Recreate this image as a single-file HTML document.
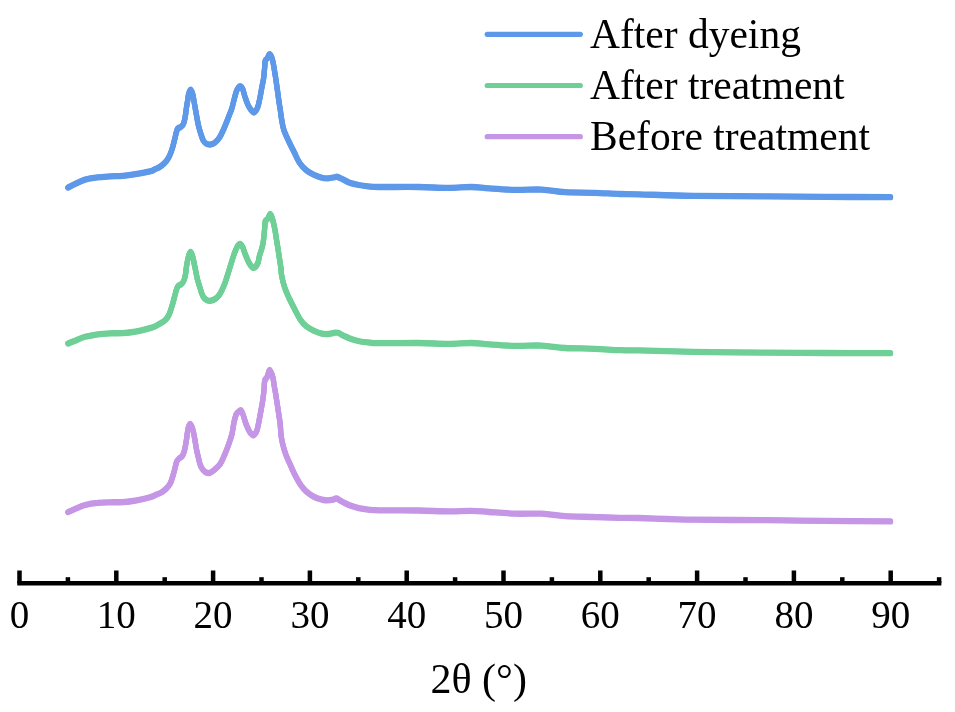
<!DOCTYPE html>
<html><head><meta charset="utf-8"><title>XRD</title>
<style>
html,body{margin:0;padding:0;background:#fff;}
body{width:955px;height:712px;overflow:hidden;}
svg{display:block;will-change:transform;}
text{font-family:"Liberation Serif",serif;fill:#000;}
svg{font-size:40px;}
</style></head><body>
<svg width="955" height="712" viewBox="0 0 955 712">
<rect width="955" height="712" fill="#fff"/>
<g fill="none" stroke-width="5.3" stroke-linecap="round" stroke-linejoin="round">
<g stroke="#5d98e9"><path d="M68.0 187.6C69.4 186.9 73.5 184.7 76.3 183.4C79.1 182.1 81.5 180.6 85.1 179.6C88.7 178.6 93.5 177.9 97.7 177.4C101.9 176.9 106.1 176.7 110.3 176.4C114.5 176.1 118.6 176.2 122.8 175.8C127.0 175.4 130.9 174.9 135.4 174.2C139.9 173.4 146.7 172.1 150.0 171.3C153.3 170.5 153.4 170.0 155.1 169.2C156.8 168.4 158.5 167.8 160.1 166.7C161.7 165.6 163.3 164.4 164.7 162.9C166.1 161.4 167.4 159.6 168.5 157.8C169.6 156.0 170.3 154.0 171.1 151.9C171.9 149.8 172.6 147.4 173.2 145.2C173.8 142.9 174.4 140.5 174.9 138.4C175.4 136.3 175.8 134.2 176.3 132.5C176.8 130.8 177.1 129.4 177.8 128.5C178.6 127.6 179.9 127.7 180.8 126.9C181.7 126.2 182.7 125.6 183.4 124.0C184.1 122.4 184.6 120.2 185.1 117.5C185.6 114.8 186.0 110.8 186.4 108.0C186.8 105.2 187.3 102.8 187.7 100.4C188.1 98.0 188.2 95.5 188.7 93.7C189.2 91.9 189.9 89.6 190.6 89.6C191.2 89.6 192.0 91.8 192.6 93.7C193.2 95.7 193.5 98.6 194.0 101.3C194.5 104.0 195.0 106.9 195.5 109.7C196.0 112.5 196.5 115.3 197.0 118.1C197.5 120.9 198.0 123.8 198.7 126.5C199.3 129.2 200.2 131.7 200.9 134.0C201.6 136.3 202.2 138.5 203.1 140.1C203.9 141.7 204.8 142.8 206.0 143.5C207.2 144.2 208.8 144.7 210.3 144.5C211.8 144.3 213.6 143.7 215.1 142.5C216.6 141.3 218.1 139.8 219.6 137.4C221.1 135.1 222.5 131.8 224.0 128.4C225.5 125.0 227.2 120.6 228.5 117.2C229.8 113.8 231.0 111.2 231.9 108.2C232.8 105.2 233.4 102.0 234.2 99.2C234.9 96.4 235.7 93.3 236.4 91.3C237.2 89.3 238.0 88.0 238.7 87.2C239.4 86.4 239.8 86.0 240.4 86.3C241.1 86.6 241.8 86.9 242.6 88.8C243.4 90.7 244.3 94.9 245.2 97.5C246.1 100.1 246.9 102.5 247.8 104.5C248.7 106.5 249.8 108.3 250.8 109.6C251.8 110.9 252.9 112.8 254.0 112.5C255.1 112.2 256.6 109.8 257.6 107.5C258.6 105.2 259.1 101.6 259.8 98.5C260.5 95.4 261.0 92.1 261.6 88.7C262.2 85.3 263.1 81.9 263.6 78.3C264.1 74.7 264.4 70.0 264.7 67.1C265.0 64.1 264.8 62.1 265.3 60.6C265.8 59.1 266.8 59.2 267.5 58.1C268.2 57.0 268.9 53.8 269.8 54.2C270.7 54.6 271.8 57.2 272.6 60.3C273.4 63.4 274.1 68.1 274.8 72.7C275.6 77.3 276.4 83.3 277.1 88.0C277.8 92.7 278.3 97.2 278.9 101.0C279.4 104.8 279.9 107.5 280.4 110.5C280.8 113.5 281.0 116.0 281.6 119.3C282.2 122.6 282.7 126.6 283.9 130.2C285.1 133.8 286.9 137.4 288.6 141.0C290.3 144.6 292.2 148.2 294.0 151.8C295.8 155.4 297.3 159.5 299.4 162.6C301.4 165.7 303.9 168.2 306.3 170.3C308.8 172.4 311.5 173.7 314.1 174.9C316.7 176.1 319.5 177.1 321.8 177.7C324.1 178.3 325.9 178.4 328.0 178.3C330.1 178.2 332.6 177.6 334.1 177.3C335.6 177.1 335.9 176.6 337.2 176.8C338.5 177.1 339.8 177.8 341.9 178.8C344.0 179.8 346.8 181.7 349.6 182.7C352.4 183.7 355.7 184.4 358.8 185.0C361.9 185.6 364.8 186.0 368.1 186.3C371.5 186.6 370.5 186.9 378.9 187.0C387.3 187.1 407.1 186.8 418.6 187.0C430.1 187.2 439.2 187.9 448.0 187.9C456.8 187.9 464.6 186.9 471.4 187.0C478.2 187.1 481.7 187.9 489.0 188.4C496.3 188.9 506.6 189.7 515.4 189.9C524.2 190.1 533.5 189.2 541.8 189.6C550.1 190.0 556.4 191.7 565.2 192.2C574.0 192.7 585.4 192.5 594.5 192.8C603.6 193.1 612.7 193.8 620.0 194.0C627.3 194.2 626.3 194.0 638.5 194.3C650.7 194.6 671.9 195.5 693.3 195.8C714.6 196.2 744.6 196.2 766.6 196.4C788.6 196.6 804.6 196.8 825.2 196.9C845.9 197.0 879.6 197.1 890.5 197.2"/><path transform="translate(0,-0.5)" d="M68.0 187.6C69.4 186.9 73.5 184.7 76.3 183.4C79.1 182.1 81.5 180.6 85.1 179.6C88.7 178.6 93.5 177.9 97.7 177.4C101.9 176.9 106.1 176.7 110.3 176.4C114.5 176.1 118.6 176.2 122.8 175.8C127.0 175.4 130.9 174.9 135.4 174.2C139.9 173.4 146.7 172.1 150.0 171.3C153.3 170.5 153.4 170.0 155.1 169.2C156.8 168.4 158.5 167.8 160.1 166.7C161.7 165.6 163.3 164.4 164.7 162.9C166.1 161.4 167.4 159.6 168.5 157.8C169.6 156.0 170.3 154.0 171.1 151.9C171.9 149.8 172.6 147.4 173.2 145.2C173.8 142.9 174.4 140.5 174.9 138.4C175.4 136.3 175.8 134.2 176.3 132.5C176.8 130.8 177.1 129.4 177.8 128.5C178.6 127.6 179.9 127.7 180.8 126.9C181.7 126.2 182.7 125.6 183.4 124.0C184.1 122.4 184.6 120.2 185.1 117.5C185.6 114.8 186.0 110.8 186.4 108.0C186.8 105.2 187.3 102.8 187.7 100.4C188.1 98.0 188.2 95.5 188.7 93.7C189.2 91.9 189.9 89.6 190.6 89.6C191.2 89.6 192.0 91.8 192.6 93.7C193.2 95.7 193.5 98.6 194.0 101.3C194.5 104.0 195.0 106.9 195.5 109.7C196.0 112.5 196.5 115.3 197.0 118.1C197.5 120.9 198.0 123.8 198.7 126.5C199.3 129.2 200.2 131.7 200.9 134.0C201.6 136.3 202.2 138.5 203.1 140.1C203.9 141.7 204.8 142.8 206.0 143.5C207.2 144.2 208.8 144.7 210.3 144.5C211.8 144.3 213.6 143.7 215.1 142.5C216.6 141.3 218.1 139.8 219.6 137.4C221.1 135.1 222.5 131.8 224.0 128.4C225.5 125.0 227.2 120.6 228.5 117.2C229.8 113.8 231.0 111.2 231.9 108.2C232.8 105.2 233.4 102.0 234.2 99.2C234.9 96.4 235.7 93.3 236.4 91.3C237.2 89.3 238.0 88.0 238.7 87.2C239.4 86.4 239.8 86.0 240.4 86.3C241.1 86.6 241.8 86.9 242.6 88.8C243.4 90.7 244.3 94.9 245.2 97.5C246.1 100.1 246.9 102.5 247.8 104.5C248.7 106.5 249.8 108.3 250.8 109.6C251.8 110.9 252.9 112.8 254.0 112.5C255.1 112.2 256.6 109.8 257.6 107.5C258.6 105.2 259.1 101.6 259.8 98.5C260.5 95.4 261.0 92.1 261.6 88.7C262.2 85.3 263.1 81.9 263.6 78.3C264.1 74.7 264.4 70.0 264.7 67.1C265.0 64.1 264.8 62.1 265.3 60.6C265.8 59.1 266.8 59.2 267.5 58.1C268.2 57.0 268.9 53.8 269.8 54.2C270.7 54.6 271.8 57.2 272.6 60.3C273.4 63.4 274.1 68.1 274.8 72.7C275.6 77.3 276.4 83.3 277.1 88.0C277.8 92.7 278.3 97.2 278.9 101.0C279.4 104.8 279.9 107.5 280.4 110.5C280.8 113.5 281.0 116.0 281.6 119.3C282.2 122.6 282.7 126.6 283.9 130.2C285.1 133.8 286.9 137.4 288.6 141.0C290.3 144.6 292.2 148.2 294.0 151.8C295.8 155.4 297.3 159.5 299.4 162.6C301.4 165.7 303.9 168.2 306.3 170.3C308.8 172.4 311.5 173.7 314.1 174.9C316.7 176.1 319.5 177.1 321.8 177.7C324.1 178.3 325.9 178.4 328.0 178.3C330.1 178.2 332.6 177.6 334.1 177.3C335.6 177.1 335.9 176.6 337.2 176.8C338.5 177.1 339.8 177.8 341.9 178.8C344.0 179.8 346.8 181.7 349.6 182.7C352.4 183.7 355.7 184.4 358.8 185.0C361.9 185.6 364.8 186.0 368.1 186.3C371.5 186.6 370.5 186.9 378.9 187.0C387.3 187.1 407.1 186.8 418.6 187.0C430.1 187.2 439.2 187.9 448.0 187.9C456.8 187.9 464.6 186.9 471.4 187.0C478.2 187.1 481.7 187.9 489.0 188.4C496.3 188.9 506.6 189.7 515.4 189.9C524.2 190.1 533.5 189.2 541.8 189.6C550.1 190.0 556.4 191.7 565.2 192.2C574.0 192.7 585.4 192.5 594.5 192.8C603.6 193.1 612.7 193.8 620.0 194.0C627.3 194.2 626.3 194.0 638.5 194.3C650.7 194.6 671.9 195.5 693.3 195.8C714.6 196.2 744.6 196.2 766.6 196.4C788.6 196.6 804.6 196.8 825.2 196.9C845.9 197.0 879.6 197.1 890.5 197.2"/><path transform="translate(0,0.5)" d="M68.0 187.6C69.4 186.9 73.5 184.7 76.3 183.4C79.1 182.1 81.5 180.6 85.1 179.6C88.7 178.6 93.5 177.9 97.7 177.4C101.9 176.9 106.1 176.7 110.3 176.4C114.5 176.1 118.6 176.2 122.8 175.8C127.0 175.4 130.9 174.9 135.4 174.2C139.9 173.4 146.7 172.1 150.0 171.3C153.3 170.5 153.4 170.0 155.1 169.2C156.8 168.4 158.5 167.8 160.1 166.7C161.7 165.6 163.3 164.4 164.7 162.9C166.1 161.4 167.4 159.6 168.5 157.8C169.6 156.0 170.3 154.0 171.1 151.9C171.9 149.8 172.6 147.4 173.2 145.2C173.8 142.9 174.4 140.5 174.9 138.4C175.4 136.3 175.8 134.2 176.3 132.5C176.8 130.8 177.1 129.4 177.8 128.5C178.6 127.6 179.9 127.7 180.8 126.9C181.7 126.2 182.7 125.6 183.4 124.0C184.1 122.4 184.6 120.2 185.1 117.5C185.6 114.8 186.0 110.8 186.4 108.0C186.8 105.2 187.3 102.8 187.7 100.4C188.1 98.0 188.2 95.5 188.7 93.7C189.2 91.9 189.9 89.6 190.6 89.6C191.2 89.6 192.0 91.8 192.6 93.7C193.2 95.7 193.5 98.6 194.0 101.3C194.5 104.0 195.0 106.9 195.5 109.7C196.0 112.5 196.5 115.3 197.0 118.1C197.5 120.9 198.0 123.8 198.7 126.5C199.3 129.2 200.2 131.7 200.9 134.0C201.6 136.3 202.2 138.5 203.1 140.1C203.9 141.7 204.8 142.8 206.0 143.5C207.2 144.2 208.8 144.7 210.3 144.5C211.8 144.3 213.6 143.7 215.1 142.5C216.6 141.3 218.1 139.8 219.6 137.4C221.1 135.1 222.5 131.8 224.0 128.4C225.5 125.0 227.2 120.6 228.5 117.2C229.8 113.8 231.0 111.2 231.9 108.2C232.8 105.2 233.4 102.0 234.2 99.2C234.9 96.4 235.7 93.3 236.4 91.3C237.2 89.3 238.0 88.0 238.7 87.2C239.4 86.4 239.8 86.0 240.4 86.3C241.1 86.6 241.8 86.9 242.6 88.8C243.4 90.7 244.3 94.9 245.2 97.5C246.1 100.1 246.9 102.5 247.8 104.5C248.7 106.5 249.8 108.3 250.8 109.6C251.8 110.9 252.9 112.8 254.0 112.5C255.1 112.2 256.6 109.8 257.6 107.5C258.6 105.2 259.1 101.6 259.8 98.5C260.5 95.4 261.0 92.1 261.6 88.7C262.2 85.3 263.1 81.9 263.6 78.3C264.1 74.7 264.4 70.0 264.7 67.1C265.0 64.1 264.8 62.1 265.3 60.6C265.8 59.1 266.8 59.2 267.5 58.1C268.2 57.0 268.9 53.8 269.8 54.2C270.7 54.6 271.8 57.2 272.6 60.3C273.4 63.4 274.1 68.1 274.8 72.7C275.6 77.3 276.4 83.3 277.1 88.0C277.8 92.7 278.3 97.2 278.9 101.0C279.4 104.8 279.9 107.5 280.4 110.5C280.8 113.5 281.0 116.0 281.6 119.3C282.2 122.6 282.7 126.6 283.9 130.2C285.1 133.8 286.9 137.4 288.6 141.0C290.3 144.6 292.2 148.2 294.0 151.8C295.8 155.4 297.3 159.5 299.4 162.6C301.4 165.7 303.9 168.2 306.3 170.3C308.8 172.4 311.5 173.7 314.1 174.9C316.7 176.1 319.5 177.1 321.8 177.7C324.1 178.3 325.9 178.4 328.0 178.3C330.1 178.2 332.6 177.6 334.1 177.3C335.6 177.1 335.9 176.6 337.2 176.8C338.5 177.1 339.8 177.8 341.9 178.8C344.0 179.8 346.8 181.7 349.6 182.7C352.4 183.7 355.7 184.4 358.8 185.0C361.9 185.6 364.8 186.0 368.1 186.3C371.5 186.6 370.5 186.9 378.9 187.0C387.3 187.1 407.1 186.8 418.6 187.0C430.1 187.2 439.2 187.9 448.0 187.9C456.8 187.9 464.6 186.9 471.4 187.0C478.2 187.1 481.7 187.9 489.0 188.4C496.3 188.9 506.6 189.7 515.4 189.9C524.2 190.1 533.5 189.2 541.8 189.6C550.1 190.0 556.4 191.7 565.2 192.2C574.0 192.7 585.4 192.5 594.5 192.8C603.6 193.1 612.7 193.8 620.0 194.0C627.3 194.2 626.3 194.0 638.5 194.3C650.7 194.6 671.9 195.5 693.3 195.8C714.6 196.2 744.6 196.2 766.6 196.4C788.6 196.6 804.6 196.8 825.2 196.9C845.9 197.0 879.6 197.1 890.5 197.2"/></g>
<g stroke="#6ecf97"><path d="M68.0 343.5C69.4 342.9 73.5 341.3 76.3 340.2C79.1 339.1 81.5 337.8 85.1 336.8C88.7 335.8 93.5 334.9 97.7 334.3C101.9 333.7 106.1 333.5 110.3 333.3C114.5 333.1 118.6 333.4 122.8 333.1C127.0 332.8 130.9 332.4 135.4 331.6C139.9 330.8 146.7 329.0 150.0 328.1C153.3 327.2 153.3 327.2 155.1 326.4C156.9 325.6 159.2 324.2 161.0 323.1C162.8 322.0 164.3 321.1 165.6 319.7C166.9 318.3 168.1 316.5 169.0 314.7C169.9 312.9 170.4 310.9 171.1 308.8C171.8 306.7 172.6 304.2 173.2 302.0C173.8 299.8 174.3 297.4 174.9 295.3C175.5 293.2 175.9 290.9 176.5 289.4C177.1 287.8 177.4 286.9 178.2 286.0C179.0 285.1 180.3 285.1 181.2 284.3C182.1 283.5 183.0 282.5 183.7 281.0C184.4 279.5 184.9 277.7 185.4 275.1C185.9 272.5 186.1 268.5 186.7 265.3C187.2 262.1 188.0 258.1 188.7 255.8C189.3 253.6 189.9 251.7 190.6 251.8C191.2 251.9 191.9 253.9 192.6 256.3C193.3 258.8 194.0 262.8 194.8 266.5C195.6 270.2 196.4 275.0 197.2 278.4C198.0 281.8 198.9 284.3 199.7 286.8C200.5 289.3 201.1 291.8 201.8 293.6C202.5 295.4 203.0 296.7 203.9 297.8C204.8 298.9 206.3 299.8 207.3 300.3C208.3 300.8 208.7 301.0 210.0 300.8C211.3 300.6 213.5 300.1 215.1 299.0C216.7 297.9 218.1 296.7 219.6 294.5C221.1 292.3 222.4 289.6 224.0 285.6C225.6 281.7 227.6 274.9 228.9 270.8C230.2 266.7 230.9 264.1 231.9 261.0C232.9 257.9 233.8 254.7 234.8 252.2C235.8 249.7 237.0 247.2 237.8 245.8C238.7 244.4 239.1 243.6 239.9 243.8C240.7 244.0 241.8 245.3 242.7 247.2C243.6 249.1 244.5 252.5 245.6 255.1C246.7 257.7 247.8 260.9 249.1 263.0C250.4 265.1 252.1 267.8 253.5 267.9C254.9 268.0 256.7 265.5 257.7 263.5C258.7 261.5 258.8 258.5 259.4 256.1C260.0 253.7 261.0 251.5 261.6 249.2C262.2 246.9 262.8 244.8 263.2 242.3C263.6 239.9 263.8 237.1 264.1 234.5C264.4 231.9 264.6 228.8 264.8 226.6C265.0 224.4 264.8 222.5 265.3 221.2C265.8 219.9 267.0 219.9 267.8 218.7C268.6 217.5 269.6 213.8 270.4 214.0C271.2 214.2 272.0 217.3 272.7 219.7C273.4 222.1 274.1 225.5 274.7 228.6C275.3 231.7 275.8 235.1 276.3 238.4C276.8 241.7 277.4 244.9 277.9 248.2C278.4 251.5 278.9 254.8 279.4 258.1C279.9 261.4 280.5 265.0 280.9 267.9C281.3 270.8 281.0 272.0 281.6 275.3C282.2 278.6 283.4 283.8 284.7 287.7C286.0 291.6 287.6 294.9 289.3 298.5C291.0 302.1 292.9 305.8 294.7 309.3C296.5 312.8 298.3 316.6 300.2 319.4C302.1 322.2 304.0 324.4 306.3 326.3C308.6 328.2 311.5 329.7 314.1 330.9C316.7 332.1 319.5 333.2 321.8 333.7C324.1 334.2 325.9 334.1 328.0 334.0C330.1 333.9 332.4 333.0 334.1 332.8C335.8 332.6 336.4 332.3 338.0 332.8C339.6 333.3 341.2 334.6 343.4 335.6C345.6 336.7 348.3 338.1 351.1 339.1C353.9 340.1 357.3 340.9 360.4 341.5C363.5 342.1 366.5 342.3 369.7 342.6C372.9 342.9 371.5 343.1 379.7 343.2C387.9 343.3 407.2 342.9 418.6 343.0C430.0 343.1 439.2 343.9 448.0 343.9C456.8 343.9 464.6 342.9 471.4 343.0C478.2 343.1 481.7 343.9 489.0 344.4C496.3 344.9 506.6 345.7 515.4 345.9C524.2 346.1 533.5 345.2 541.8 345.6C550.1 346.0 556.4 347.5 565.2 348.0C574.0 348.5 585.4 348.4 594.5 348.8C603.6 349.2 612.7 349.9 620.0 350.2C627.3 350.5 626.3 350.1 638.5 350.4C650.7 350.7 671.9 351.4 693.3 351.8C714.6 352.2 744.6 352.4 766.6 352.6C788.6 352.8 804.6 352.9 825.2 353.0C845.9 353.1 879.6 353.2 890.5 353.2"/><path transform="translate(0,-0.5)" d="M68.0 343.5C69.4 342.9 73.5 341.3 76.3 340.2C79.1 339.1 81.5 337.8 85.1 336.8C88.7 335.8 93.5 334.9 97.7 334.3C101.9 333.7 106.1 333.5 110.3 333.3C114.5 333.1 118.6 333.4 122.8 333.1C127.0 332.8 130.9 332.4 135.4 331.6C139.9 330.8 146.7 329.0 150.0 328.1C153.3 327.2 153.3 327.2 155.1 326.4C156.9 325.6 159.2 324.2 161.0 323.1C162.8 322.0 164.3 321.1 165.6 319.7C166.9 318.3 168.1 316.5 169.0 314.7C169.9 312.9 170.4 310.9 171.1 308.8C171.8 306.7 172.6 304.2 173.2 302.0C173.8 299.8 174.3 297.4 174.9 295.3C175.5 293.2 175.9 290.9 176.5 289.4C177.1 287.8 177.4 286.9 178.2 286.0C179.0 285.1 180.3 285.1 181.2 284.3C182.1 283.5 183.0 282.5 183.7 281.0C184.4 279.5 184.9 277.7 185.4 275.1C185.9 272.5 186.1 268.5 186.7 265.3C187.2 262.1 188.0 258.1 188.7 255.8C189.3 253.6 189.9 251.7 190.6 251.8C191.2 251.9 191.9 253.9 192.6 256.3C193.3 258.8 194.0 262.8 194.8 266.5C195.6 270.2 196.4 275.0 197.2 278.4C198.0 281.8 198.9 284.3 199.7 286.8C200.5 289.3 201.1 291.8 201.8 293.6C202.5 295.4 203.0 296.7 203.9 297.8C204.8 298.9 206.3 299.8 207.3 300.3C208.3 300.8 208.7 301.0 210.0 300.8C211.3 300.6 213.5 300.1 215.1 299.0C216.7 297.9 218.1 296.7 219.6 294.5C221.1 292.3 222.4 289.6 224.0 285.6C225.6 281.7 227.6 274.9 228.9 270.8C230.2 266.7 230.9 264.1 231.9 261.0C232.9 257.9 233.8 254.7 234.8 252.2C235.8 249.7 237.0 247.2 237.8 245.8C238.7 244.4 239.1 243.6 239.9 243.8C240.7 244.0 241.8 245.3 242.7 247.2C243.6 249.1 244.5 252.5 245.6 255.1C246.7 257.7 247.8 260.9 249.1 263.0C250.4 265.1 252.1 267.8 253.5 267.9C254.9 268.0 256.7 265.5 257.7 263.5C258.7 261.5 258.8 258.5 259.4 256.1C260.0 253.7 261.0 251.5 261.6 249.2C262.2 246.9 262.8 244.8 263.2 242.3C263.6 239.9 263.8 237.1 264.1 234.5C264.4 231.9 264.6 228.8 264.8 226.6C265.0 224.4 264.8 222.5 265.3 221.2C265.8 219.9 267.0 219.9 267.8 218.7C268.6 217.5 269.6 213.8 270.4 214.0C271.2 214.2 272.0 217.3 272.7 219.7C273.4 222.1 274.1 225.5 274.7 228.6C275.3 231.7 275.8 235.1 276.3 238.4C276.8 241.7 277.4 244.9 277.9 248.2C278.4 251.5 278.9 254.8 279.4 258.1C279.9 261.4 280.5 265.0 280.9 267.9C281.3 270.8 281.0 272.0 281.6 275.3C282.2 278.6 283.4 283.8 284.7 287.7C286.0 291.6 287.6 294.9 289.3 298.5C291.0 302.1 292.9 305.8 294.7 309.3C296.5 312.8 298.3 316.6 300.2 319.4C302.1 322.2 304.0 324.4 306.3 326.3C308.6 328.2 311.5 329.7 314.1 330.9C316.7 332.1 319.5 333.2 321.8 333.7C324.1 334.2 325.9 334.1 328.0 334.0C330.1 333.9 332.4 333.0 334.1 332.8C335.8 332.6 336.4 332.3 338.0 332.8C339.6 333.3 341.2 334.6 343.4 335.6C345.6 336.7 348.3 338.1 351.1 339.1C353.9 340.1 357.3 340.9 360.4 341.5C363.5 342.1 366.5 342.3 369.7 342.6C372.9 342.9 371.5 343.1 379.7 343.2C387.9 343.3 407.2 342.9 418.6 343.0C430.0 343.1 439.2 343.9 448.0 343.9C456.8 343.9 464.6 342.9 471.4 343.0C478.2 343.1 481.7 343.9 489.0 344.4C496.3 344.9 506.6 345.7 515.4 345.9C524.2 346.1 533.5 345.2 541.8 345.6C550.1 346.0 556.4 347.5 565.2 348.0C574.0 348.5 585.4 348.4 594.5 348.8C603.6 349.2 612.7 349.9 620.0 350.2C627.3 350.5 626.3 350.1 638.5 350.4C650.7 350.7 671.9 351.4 693.3 351.8C714.6 352.2 744.6 352.4 766.6 352.6C788.6 352.8 804.6 352.9 825.2 353.0C845.9 353.1 879.6 353.2 890.5 353.2"/><path transform="translate(0,0.5)" d="M68.0 343.5C69.4 342.9 73.5 341.3 76.3 340.2C79.1 339.1 81.5 337.8 85.1 336.8C88.7 335.8 93.5 334.9 97.7 334.3C101.9 333.7 106.1 333.5 110.3 333.3C114.5 333.1 118.6 333.4 122.8 333.1C127.0 332.8 130.9 332.4 135.4 331.6C139.9 330.8 146.7 329.0 150.0 328.1C153.3 327.2 153.3 327.2 155.1 326.4C156.9 325.6 159.2 324.2 161.0 323.1C162.8 322.0 164.3 321.1 165.6 319.7C166.9 318.3 168.1 316.5 169.0 314.7C169.9 312.9 170.4 310.9 171.1 308.8C171.8 306.7 172.6 304.2 173.2 302.0C173.8 299.8 174.3 297.4 174.9 295.3C175.5 293.2 175.9 290.9 176.5 289.4C177.1 287.8 177.4 286.9 178.2 286.0C179.0 285.1 180.3 285.1 181.2 284.3C182.1 283.5 183.0 282.5 183.7 281.0C184.4 279.5 184.9 277.7 185.4 275.1C185.9 272.5 186.1 268.5 186.7 265.3C187.2 262.1 188.0 258.1 188.7 255.8C189.3 253.6 189.9 251.7 190.6 251.8C191.2 251.9 191.9 253.9 192.6 256.3C193.3 258.8 194.0 262.8 194.8 266.5C195.6 270.2 196.4 275.0 197.2 278.4C198.0 281.8 198.9 284.3 199.7 286.8C200.5 289.3 201.1 291.8 201.8 293.6C202.5 295.4 203.0 296.7 203.9 297.8C204.8 298.9 206.3 299.8 207.3 300.3C208.3 300.8 208.7 301.0 210.0 300.8C211.3 300.6 213.5 300.1 215.1 299.0C216.7 297.9 218.1 296.7 219.6 294.5C221.1 292.3 222.4 289.6 224.0 285.6C225.6 281.7 227.6 274.9 228.9 270.8C230.2 266.7 230.9 264.1 231.9 261.0C232.9 257.9 233.8 254.7 234.8 252.2C235.8 249.7 237.0 247.2 237.8 245.8C238.7 244.4 239.1 243.6 239.9 243.8C240.7 244.0 241.8 245.3 242.7 247.2C243.6 249.1 244.5 252.5 245.6 255.1C246.7 257.7 247.8 260.9 249.1 263.0C250.4 265.1 252.1 267.8 253.5 267.9C254.9 268.0 256.7 265.5 257.7 263.5C258.7 261.5 258.8 258.5 259.4 256.1C260.0 253.7 261.0 251.5 261.6 249.2C262.2 246.9 262.8 244.8 263.2 242.3C263.6 239.9 263.8 237.1 264.1 234.5C264.4 231.9 264.6 228.8 264.8 226.6C265.0 224.4 264.8 222.5 265.3 221.2C265.8 219.9 267.0 219.9 267.8 218.7C268.6 217.5 269.6 213.8 270.4 214.0C271.2 214.2 272.0 217.3 272.7 219.7C273.4 222.1 274.1 225.5 274.7 228.6C275.3 231.7 275.8 235.1 276.3 238.4C276.8 241.7 277.4 244.9 277.9 248.2C278.4 251.5 278.9 254.8 279.4 258.1C279.9 261.4 280.5 265.0 280.9 267.9C281.3 270.8 281.0 272.0 281.6 275.3C282.2 278.6 283.4 283.8 284.7 287.7C286.0 291.6 287.6 294.9 289.3 298.5C291.0 302.1 292.9 305.8 294.7 309.3C296.5 312.8 298.3 316.6 300.2 319.4C302.1 322.2 304.0 324.4 306.3 326.3C308.6 328.2 311.5 329.7 314.1 330.9C316.7 332.1 319.5 333.2 321.8 333.7C324.1 334.2 325.9 334.1 328.0 334.0C330.1 333.9 332.4 333.0 334.1 332.8C335.8 332.6 336.4 332.3 338.0 332.8C339.6 333.3 341.2 334.6 343.4 335.6C345.6 336.7 348.3 338.1 351.1 339.1C353.9 340.1 357.3 340.9 360.4 341.5C363.5 342.1 366.5 342.3 369.7 342.6C372.9 342.9 371.5 343.1 379.7 343.2C387.9 343.3 407.2 342.9 418.6 343.0C430.0 343.1 439.2 343.9 448.0 343.9C456.8 343.9 464.6 342.9 471.4 343.0C478.2 343.1 481.7 343.9 489.0 344.4C496.3 344.9 506.6 345.7 515.4 345.9C524.2 346.1 533.5 345.2 541.8 345.6C550.1 346.0 556.4 347.5 565.2 348.0C574.0 348.5 585.4 348.4 594.5 348.8C603.6 349.2 612.7 349.9 620.0 350.2C627.3 350.5 626.3 350.1 638.5 350.4C650.7 350.7 671.9 351.4 693.3 351.8C714.6 352.2 744.6 352.4 766.6 352.6C788.6 352.8 804.6 352.9 825.2 353.0C845.9 353.1 879.6 353.2 890.5 353.2"/></g>
<g stroke="#c596e6"><path d="M68.0 512.1C69.4 511.5 73.5 509.6 76.3 508.4C79.1 507.2 81.5 505.9 85.1 505.0C88.7 504.1 93.5 503.3 97.7 502.9C101.9 502.4 106.1 502.4 110.3 502.3C114.5 502.2 118.6 502.4 122.8 502.1C127.0 501.8 130.9 501.4 135.4 500.6C139.9 499.8 146.6 498.3 150.0 497.3C153.4 496.3 153.9 495.7 155.9 494.8C157.9 493.9 160.1 493.2 161.8 492.2C163.5 491.2 164.6 490.3 166.0 488.9C167.4 487.5 168.9 485.6 170.0 483.8C171.1 482.0 171.6 480.0 172.3 477.9C173.0 475.8 173.6 473.3 174.2 471.2C174.8 469.1 175.2 467.0 175.7 465.3C176.2 463.6 176.4 462.2 177.0 461.1C177.6 460.0 178.3 459.3 179.1 458.5C179.9 457.7 181.2 457.5 182.0 456.4C182.8 455.3 183.5 453.6 184.1 451.8C184.7 450.1 185.0 447.9 185.4 445.9C185.8 443.8 186.1 442.4 186.5 439.5C186.9 436.6 187.5 431.3 188.1 428.7C188.7 426.1 189.3 424.0 190.1 424.0C190.8 424.0 191.9 426.5 192.6 428.7C193.3 430.9 193.8 433.7 194.4 437.0C195.0 440.3 195.7 445.1 196.3 448.4C196.9 451.7 197.6 454.1 198.2 456.8C198.8 459.5 199.3 462.3 200.1 464.4C200.8 466.5 201.7 468.2 202.7 469.5C203.7 470.8 204.9 471.8 206.0 472.4C207.1 473.0 208.2 473.4 209.5 473.0C210.8 472.6 212.1 471.8 213.9 470.3C215.7 468.8 218.4 466.7 220.2 464.1C222.0 461.5 223.3 457.9 224.7 454.6C226.1 451.3 227.5 447.8 228.7 444.4C229.9 441.0 231.2 436.9 231.9 434.3C232.6 431.7 232.5 431.0 232.9 428.8C233.3 426.6 233.7 423.4 234.3 421.0C234.9 418.6 235.6 415.7 236.3 414.1C237.1 412.5 238.0 412.2 238.8 411.6C239.6 411.0 240.3 409.7 241.0 410.3C241.7 410.9 242.4 413.0 243.2 415.1C244.0 417.2 244.8 420.6 245.6 422.9C246.4 425.2 247.3 427.1 248.1 428.8C248.9 430.5 249.6 431.9 250.5 433.0C251.4 434.1 252.4 435.5 253.3 435.4C254.2 435.3 255.3 433.6 256.0 432.5C256.7 431.4 256.8 431.1 257.4 428.8C258.0 426.6 258.8 422.3 259.4 419.0C260.0 415.7 260.6 412.5 261.2 409.2C261.8 405.9 262.4 402.6 262.9 399.3C263.4 396.0 263.7 392.6 264.0 389.5C264.3 386.4 264.2 382.7 264.8 380.6C265.4 378.5 266.5 378.5 267.3 376.7C268.1 374.9 268.8 370.0 269.7 370.0C270.6 370.0 271.9 374.1 272.7 376.7C273.4 379.3 273.7 382.5 274.2 385.6C274.7 388.7 275.4 392.1 275.9 395.4C276.4 398.7 276.9 401.9 277.4 405.2C277.9 408.5 278.4 411.8 278.9 415.1C279.4 418.4 280.0 421.9 280.3 424.9C280.6 427.9 280.5 430.0 280.8 433.0C281.1 436.0 281.6 439.4 282.4 442.8C283.2 446.2 284.2 450.0 285.5 453.6C286.8 457.2 288.4 460.7 290.1 464.4C291.8 468.1 293.7 472.5 295.5 476.0C297.3 479.5 299.1 482.7 300.9 485.3C302.7 487.9 304.1 489.5 306.3 491.4C308.5 493.3 311.5 495.5 314.1 496.9C316.7 498.3 319.5 499.0 321.8 499.6C324.1 500.2 326.1 500.4 328.0 500.4C329.9 500.4 332.0 499.9 333.4 499.6C334.8 499.3 335.0 498.1 336.4 498.4C337.8 498.7 339.7 500.4 341.9 501.5C344.1 502.6 346.8 504.2 349.6 505.3C352.4 506.4 355.7 507.4 358.8 508.1C361.9 508.8 364.6 509.2 368.1 509.6C371.6 510.0 371.3 510.2 379.7 510.4C388.1 510.5 407.2 510.3 418.6 510.5C430.0 510.7 439.2 511.3 448.0 511.4C456.8 511.4 464.6 510.7 471.4 510.8C478.2 510.9 481.7 511.5 489.0 512.0C496.3 512.5 506.6 513.4 515.4 513.7C524.2 514.0 533.5 513.3 541.8 513.7C550.1 514.1 556.4 515.6 565.2 516.1C574.0 516.6 585.4 516.7 594.5 517.0C603.6 517.3 612.7 517.6 620.0 517.8C627.3 518.0 626.3 517.7 638.5 518.0C650.7 518.3 671.9 519.2 693.3 519.6C714.6 520.0 744.6 520.0 766.6 520.2C788.6 520.4 804.6 520.6 825.2 520.8C845.9 521.0 879.6 521.3 890.5 521.4"/><path transform="translate(0,-0.5)" d="M68.0 512.1C69.4 511.5 73.5 509.6 76.3 508.4C79.1 507.2 81.5 505.9 85.1 505.0C88.7 504.1 93.5 503.3 97.7 502.9C101.9 502.4 106.1 502.4 110.3 502.3C114.5 502.2 118.6 502.4 122.8 502.1C127.0 501.8 130.9 501.4 135.4 500.6C139.9 499.8 146.6 498.3 150.0 497.3C153.4 496.3 153.9 495.7 155.9 494.8C157.9 493.9 160.1 493.2 161.8 492.2C163.5 491.2 164.6 490.3 166.0 488.9C167.4 487.5 168.9 485.6 170.0 483.8C171.1 482.0 171.6 480.0 172.3 477.9C173.0 475.8 173.6 473.3 174.2 471.2C174.8 469.1 175.2 467.0 175.7 465.3C176.2 463.6 176.4 462.2 177.0 461.1C177.6 460.0 178.3 459.3 179.1 458.5C179.9 457.7 181.2 457.5 182.0 456.4C182.8 455.3 183.5 453.6 184.1 451.8C184.7 450.1 185.0 447.9 185.4 445.9C185.8 443.8 186.1 442.4 186.5 439.5C186.9 436.6 187.5 431.3 188.1 428.7C188.7 426.1 189.3 424.0 190.1 424.0C190.8 424.0 191.9 426.5 192.6 428.7C193.3 430.9 193.8 433.7 194.4 437.0C195.0 440.3 195.7 445.1 196.3 448.4C196.9 451.7 197.6 454.1 198.2 456.8C198.8 459.5 199.3 462.3 200.1 464.4C200.8 466.5 201.7 468.2 202.7 469.5C203.7 470.8 204.9 471.8 206.0 472.4C207.1 473.0 208.2 473.4 209.5 473.0C210.8 472.6 212.1 471.8 213.9 470.3C215.7 468.8 218.4 466.7 220.2 464.1C222.0 461.5 223.3 457.9 224.7 454.6C226.1 451.3 227.5 447.8 228.7 444.4C229.9 441.0 231.2 436.9 231.9 434.3C232.6 431.7 232.5 431.0 232.9 428.8C233.3 426.6 233.7 423.4 234.3 421.0C234.9 418.6 235.6 415.7 236.3 414.1C237.1 412.5 238.0 412.2 238.8 411.6C239.6 411.0 240.3 409.7 241.0 410.3C241.7 410.9 242.4 413.0 243.2 415.1C244.0 417.2 244.8 420.6 245.6 422.9C246.4 425.2 247.3 427.1 248.1 428.8C248.9 430.5 249.6 431.9 250.5 433.0C251.4 434.1 252.4 435.5 253.3 435.4C254.2 435.3 255.3 433.6 256.0 432.5C256.7 431.4 256.8 431.1 257.4 428.8C258.0 426.6 258.8 422.3 259.4 419.0C260.0 415.7 260.6 412.5 261.2 409.2C261.8 405.9 262.4 402.6 262.9 399.3C263.4 396.0 263.7 392.6 264.0 389.5C264.3 386.4 264.2 382.7 264.8 380.6C265.4 378.5 266.5 378.5 267.3 376.7C268.1 374.9 268.8 370.0 269.7 370.0C270.6 370.0 271.9 374.1 272.7 376.7C273.4 379.3 273.7 382.5 274.2 385.6C274.7 388.7 275.4 392.1 275.9 395.4C276.4 398.7 276.9 401.9 277.4 405.2C277.9 408.5 278.4 411.8 278.9 415.1C279.4 418.4 280.0 421.9 280.3 424.9C280.6 427.9 280.5 430.0 280.8 433.0C281.1 436.0 281.6 439.4 282.4 442.8C283.2 446.2 284.2 450.0 285.5 453.6C286.8 457.2 288.4 460.7 290.1 464.4C291.8 468.1 293.7 472.5 295.5 476.0C297.3 479.5 299.1 482.7 300.9 485.3C302.7 487.9 304.1 489.5 306.3 491.4C308.5 493.3 311.5 495.5 314.1 496.9C316.7 498.3 319.5 499.0 321.8 499.6C324.1 500.2 326.1 500.4 328.0 500.4C329.9 500.4 332.0 499.9 333.4 499.6C334.8 499.3 335.0 498.1 336.4 498.4C337.8 498.7 339.7 500.4 341.9 501.5C344.1 502.6 346.8 504.2 349.6 505.3C352.4 506.4 355.7 507.4 358.8 508.1C361.9 508.8 364.6 509.2 368.1 509.6C371.6 510.0 371.3 510.2 379.7 510.4C388.1 510.5 407.2 510.3 418.6 510.5C430.0 510.7 439.2 511.3 448.0 511.4C456.8 511.4 464.6 510.7 471.4 510.8C478.2 510.9 481.7 511.5 489.0 512.0C496.3 512.5 506.6 513.4 515.4 513.7C524.2 514.0 533.5 513.3 541.8 513.7C550.1 514.1 556.4 515.6 565.2 516.1C574.0 516.6 585.4 516.7 594.5 517.0C603.6 517.3 612.7 517.6 620.0 517.8C627.3 518.0 626.3 517.7 638.5 518.0C650.7 518.3 671.9 519.2 693.3 519.6C714.6 520.0 744.6 520.0 766.6 520.2C788.6 520.4 804.6 520.6 825.2 520.8C845.9 521.0 879.6 521.3 890.5 521.4"/><path transform="translate(0,0.5)" d="M68.0 512.1C69.4 511.5 73.5 509.6 76.3 508.4C79.1 507.2 81.5 505.9 85.1 505.0C88.7 504.1 93.5 503.3 97.7 502.9C101.9 502.4 106.1 502.4 110.3 502.3C114.5 502.2 118.6 502.4 122.8 502.1C127.0 501.8 130.9 501.4 135.4 500.6C139.9 499.8 146.6 498.3 150.0 497.3C153.4 496.3 153.9 495.7 155.9 494.8C157.9 493.9 160.1 493.2 161.8 492.2C163.5 491.2 164.6 490.3 166.0 488.9C167.4 487.5 168.9 485.6 170.0 483.8C171.1 482.0 171.6 480.0 172.3 477.9C173.0 475.8 173.6 473.3 174.2 471.2C174.8 469.1 175.2 467.0 175.7 465.3C176.2 463.6 176.4 462.2 177.0 461.1C177.6 460.0 178.3 459.3 179.1 458.5C179.9 457.7 181.2 457.5 182.0 456.4C182.8 455.3 183.5 453.6 184.1 451.8C184.7 450.1 185.0 447.9 185.4 445.9C185.8 443.8 186.1 442.4 186.5 439.5C186.9 436.6 187.5 431.3 188.1 428.7C188.7 426.1 189.3 424.0 190.1 424.0C190.8 424.0 191.9 426.5 192.6 428.7C193.3 430.9 193.8 433.7 194.4 437.0C195.0 440.3 195.7 445.1 196.3 448.4C196.9 451.7 197.6 454.1 198.2 456.8C198.8 459.5 199.3 462.3 200.1 464.4C200.8 466.5 201.7 468.2 202.7 469.5C203.7 470.8 204.9 471.8 206.0 472.4C207.1 473.0 208.2 473.4 209.5 473.0C210.8 472.6 212.1 471.8 213.9 470.3C215.7 468.8 218.4 466.7 220.2 464.1C222.0 461.5 223.3 457.9 224.7 454.6C226.1 451.3 227.5 447.8 228.7 444.4C229.9 441.0 231.2 436.9 231.9 434.3C232.6 431.7 232.5 431.0 232.9 428.8C233.3 426.6 233.7 423.4 234.3 421.0C234.9 418.6 235.6 415.7 236.3 414.1C237.1 412.5 238.0 412.2 238.8 411.6C239.6 411.0 240.3 409.7 241.0 410.3C241.7 410.9 242.4 413.0 243.2 415.1C244.0 417.2 244.8 420.6 245.6 422.9C246.4 425.2 247.3 427.1 248.1 428.8C248.9 430.5 249.6 431.9 250.5 433.0C251.4 434.1 252.4 435.5 253.3 435.4C254.2 435.3 255.3 433.6 256.0 432.5C256.7 431.4 256.8 431.1 257.4 428.8C258.0 426.6 258.8 422.3 259.4 419.0C260.0 415.7 260.6 412.5 261.2 409.2C261.8 405.9 262.4 402.6 262.9 399.3C263.4 396.0 263.7 392.6 264.0 389.5C264.3 386.4 264.2 382.7 264.8 380.6C265.4 378.5 266.5 378.5 267.3 376.7C268.1 374.9 268.8 370.0 269.7 370.0C270.6 370.0 271.9 374.1 272.7 376.7C273.4 379.3 273.7 382.5 274.2 385.6C274.7 388.7 275.4 392.1 275.9 395.4C276.4 398.7 276.9 401.9 277.4 405.2C277.9 408.5 278.4 411.8 278.9 415.1C279.4 418.4 280.0 421.9 280.3 424.9C280.6 427.9 280.5 430.0 280.8 433.0C281.1 436.0 281.6 439.4 282.4 442.8C283.2 446.2 284.2 450.0 285.5 453.6C286.8 457.2 288.4 460.7 290.1 464.4C291.8 468.1 293.7 472.5 295.5 476.0C297.3 479.5 299.1 482.7 300.9 485.3C302.7 487.9 304.1 489.5 306.3 491.4C308.5 493.3 311.5 495.5 314.1 496.9C316.7 498.3 319.5 499.0 321.8 499.6C324.1 500.2 326.1 500.4 328.0 500.4C329.9 500.4 332.0 499.9 333.4 499.6C334.8 499.3 335.0 498.1 336.4 498.4C337.8 498.7 339.7 500.4 341.9 501.5C344.1 502.6 346.8 504.2 349.6 505.3C352.4 506.4 355.7 507.4 358.8 508.1C361.9 508.8 364.6 509.2 368.1 509.6C371.6 510.0 371.3 510.2 379.7 510.4C388.1 510.5 407.2 510.3 418.6 510.5C430.0 510.7 439.2 511.3 448.0 511.4C456.8 511.4 464.6 510.7 471.4 510.8C478.2 510.9 481.7 511.5 489.0 512.0C496.3 512.5 506.6 513.4 515.4 513.7C524.2 514.0 533.5 513.3 541.8 513.7C550.1 514.1 556.4 515.6 565.2 516.1C574.0 516.6 585.4 516.7 594.5 517.0C603.6 517.3 612.7 517.6 620.0 517.8C627.3 518.0 626.3 517.7 638.5 518.0C650.7 518.3 671.9 519.2 693.3 519.6C714.6 520.0 744.6 520.0 766.6 520.2C788.6 520.4 804.6 520.6 825.2 520.8C845.9 521.0 879.6 521.3 890.5 521.4"/></g>
</g>
<g fill="none" stroke-width="5.2" stroke-linecap="round">
<line stroke="#5d98e9" x1="487.2" y1="34.3" x2="580.3" y2="34.3"/>
<line stroke="#6ecf97" x1="487.2" y1="85.5" x2="580.3" y2="85.5"/>
<line stroke="#c596e6" x1="487.2" y1="136.7" x2="580.3" y2="136.7"/>
</g>
<g style="font-size:41.5px">
<text x="590" y="47.7">After dyeing</text>
<text x="590" y="98.9">After treatment</text>
<text x="590" y="150.1">Before treatment</text>
</g>
<g stroke="#000" stroke-width="4.5" fill="none">
<line x1="17.25" y1="583.3" x2="941.35" y2="583.3"/>
<line x1="19.50" y1="570.5" x2="19.50" y2="583.30"/><line x1="67.90" y1="577.2" x2="67.90" y2="583.30"/><line x1="116.30" y1="570.5" x2="116.30" y2="583.30"/><line x1="164.70" y1="577.2" x2="164.70" y2="583.30"/><line x1="213.10" y1="570.5" x2="213.10" y2="583.30"/><line x1="261.50" y1="577.2" x2="261.50" y2="583.30"/><line x1="309.90" y1="570.5" x2="309.90" y2="583.30"/><line x1="358.30" y1="577.2" x2="358.30" y2="583.30"/><line x1="406.70" y1="570.5" x2="406.70" y2="583.30"/><line x1="455.10" y1="577.2" x2="455.10" y2="583.30"/><line x1="503.50" y1="570.5" x2="503.50" y2="583.30"/><line x1="551.90" y1="577.2" x2="551.90" y2="583.30"/><line x1="600.30" y1="570.5" x2="600.30" y2="583.30"/><line x1="648.70" y1="577.2" x2="648.70" y2="583.30"/><line x1="697.10" y1="570.5" x2="697.10" y2="583.30"/><line x1="745.50" y1="577.2" x2="745.50" y2="583.30"/><line x1="793.90" y1="570.5" x2="793.90" y2="583.30"/><line x1="842.30" y1="577.2" x2="842.30" y2="583.30"/><line x1="890.70" y1="570.5" x2="890.70" y2="583.30"/><line x1="939.10" y1="577.2" x2="939.10" y2="583.30"/>
</g>
<g style="font-size:39px"><text x="19.50" y="628.3" text-anchor="middle">0</text><text x="116.30" y="628.3" text-anchor="middle">10</text><text x="213.10" y="628.3" text-anchor="middle">20</text><text x="309.90" y="628.3" text-anchor="middle">30</text><text x="406.70" y="628.3" text-anchor="middle">40</text><text x="503.50" y="628.3" text-anchor="middle">50</text><text x="600.30" y="628.3" text-anchor="middle">60</text><text x="697.10" y="628.3" text-anchor="middle">70</text><text x="793.90" y="628.3" text-anchor="middle">80</text><text x="890.70" y="628.3" text-anchor="middle">90</text></g>
<text x="478.7" y="693.3" text-anchor="middle" style="font-size:42px">2θ (°)</text>
</svg>
</body></html>
